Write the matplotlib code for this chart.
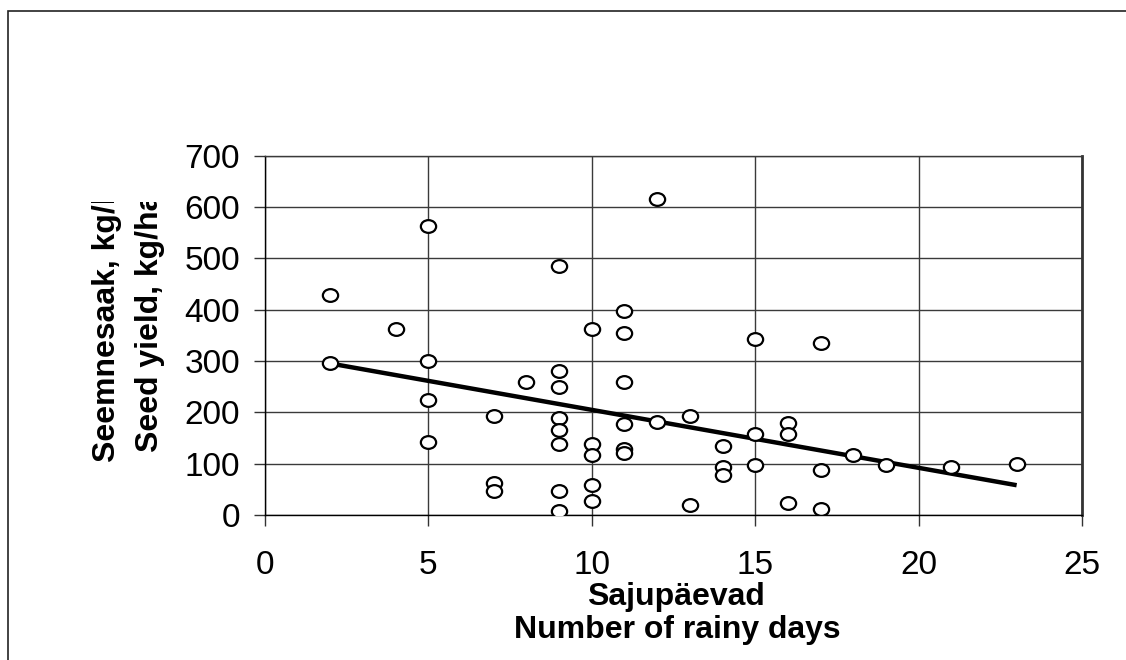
import matplotlib
matplotlib.use("Agg")
import matplotlib.pyplot as plt
from matplotlib.patches import Rectangle
from matplotlib.path import Path
from matplotlib.transforms import Affine2D, Bbox

plt.rcParams["font.family"] = ["Liberation Sans", "DejaVu Sans"]

# rainy days vs seed yield (kg/ha)
rainy_days = [2, 2, 4, 5, 5, 5, 5, 7, 7, 7, 8,
              9, 9, 9, 9, 9, 9, 9, 9,
              10, 10, 10, 10, 10,
              11, 11, 11, 11, 11, 11,
              12, 12, 13, 13, 14, 14, 14,
              15, 15, 15, 16, 16, 16, 17, 17, 17,
              18, 19, 21, 23]
seed_yield = [428, 296, 362, 562, 300, 223, 142, 192, 62, 47, 258,
              485, 281, 250, 188, 165, 139, 47, 8,
              362, 139, 116, 58, 27,
              397, 354, 258, 177, 128, 120,
              616, 181, 192, 19, 135, 93, 77,
              342, 157, 97, 180, 157, 23, 334, 88, 11,
              116, 97, 93, 100]

# linear trend line as drawn on the chart
trend_x = [2, 23]
trend_y = [295, 58]

x_ticks = [0, 5, 10, 15, 20, 25]
y_ticks = [0, 100, 200, 300, 400, 500, 600, 700]

W, H = 1126, 660
fig = plt.figure(figsize=(W / 100, H / 100), dpi=100)
ax = fig.add_axes([265 / W, 1 - 515 / H, (1082 - 265) / W, (515 - 155.5) / H])

ellipse = Path.unit_circle().transformed(Affine2D().scale(1.2, 1.0))
ax.plot(trend_x, trend_y, color="black", lw=3.2, zorder=3, solid_capstyle="butt")
ax.plot(rainy_days, seed_yield, ls="none", marker=ellipse, ms=11,
        mfc="white", mec="black", mew=1.6, zorder=4)

ax.set_xlim(0, 25)
ax.set_ylim(0, 700)
ax.set_xticks(x_ticks)
ax.set_yticks(y_ticks)
ax.grid(True, color="#3a3a3a", lw=1.0, zorder=1)
ax.tick_params(axis="both", labelsize=24, length=8, width=1, color="#333333",
               direction="out")
ax.tick_params(axis="x", pad=17)
ax.tick_params(axis="y", pad=10)
for side in ("left", "bottom"):
    ax.spines[side].set_color("black")
    ax.spines[side].set_linewidth(1.0)
ax.spines["top"].set_color("#3a3a3a")
ax.spines["top"].set_linewidth(1.0)
ax.spines["right"].set_color("#333333")
ax.spines["right"].set_linewidth(2.0)

fig.text(676 / W, 1 - 605 / H, "Sajupäevad", ha="center", va="baseline",
         fontsize=23, fontweight="bold")
fig.text(677 / W, 1 - 638 / H, "Number of rainy days", ha="center",
         va="baseline", fontsize=23, fontweight="bold")

# y label: two rotated lines, cut off at the top as in the original
clip = Bbox.from_extents(0, 0, W, H - 202)
for xc, y0, line in [(107, 462, "Seemnesaak, kg/ha"),
                     (150, 452, "Seed yield, kg/ha")]:
    t = fig.text(xc / W, 1 - y0 / H, line, rotation=90, ha="center",
                 va="bottom", fontsize=23, fontweight="bold")
    t.set_clip_box(clip)
    t.set_clip_on(True)

# outer chart-area frame (right and bottom edges fall outside the image)
fig.add_artist(Rectangle((8 / W, -0.1), 1.2, 1.1 - 11 / H,
                         transform=fig.transFigure, fill=False,
                         edgecolor="#222222", lw=1.2))

fig.savefig("out.png", dpi=100)
